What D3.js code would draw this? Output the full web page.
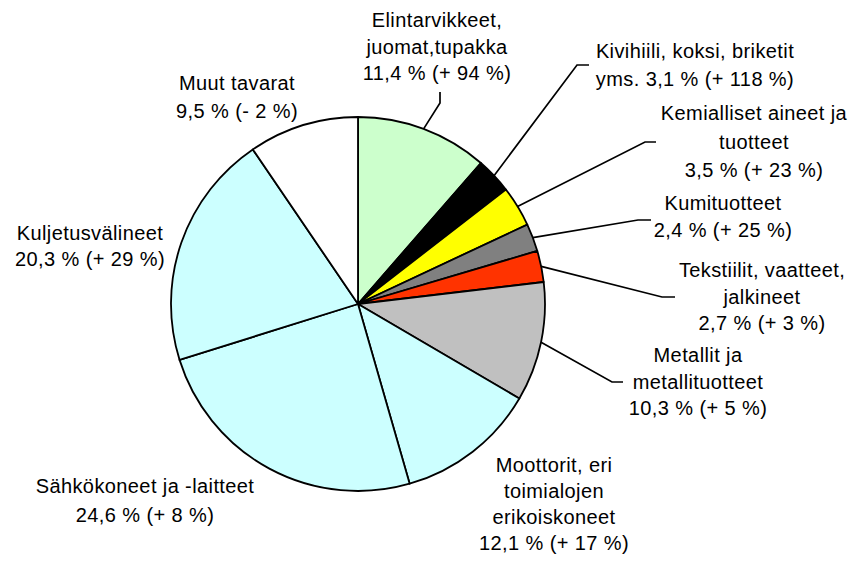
<!DOCTYPE html>
<html>
<head>
<meta charset="utf-8">
<script src="https://cdn.jsdelivr.net/npm/d3@7"></script>
<style>
  html, body { margin: 0; padding: 0; background: #fff; }
  svg text { font-family: "Liberation Sans", Arial, sans-serif; font-size: 20px; letter-spacing: 0.4px; fill: #000; }
</style>
</head>
<body>
<svg id="chart" width="856" height="561"></svg>
<script>
"use strict";

// category names, line breaks as in the original labels
const categories = [
    "Elintarvikkeet,\njuomat,tupakka",
    "Kivihiili, koksi, briketit\nyms.",
    "Kemialliset aineet ja\ntuotteet",
    "Kumituotteet",
    "Tekstiilit, vaatteet,\njalkineet",
    "Metallit ja\nmetallituotteet",
    "Moottorit, eri\ntoimialojen\nerikoiskoneet",
    "Sähkökoneet ja -laitteet",
    "Kuljetusvälineet",
    "Muut tavarat"
];
// share of total, %
const shares = [11.4, 3.1, 3.5, 2.4, 2.7, 10.3, 12.1, 24.6, 20.3, 9.5];
// change from previous year, %
const changes = [94, 118, 23, 25, 3, 5, 17, 8, 29, -2];

const colors = ["#ccffcc", "#000000", "#ffff00", "#808080", "#ff3300",
                "#c0c0c0", "#ccffff", "#ccffff", "#ccffff", "#ffffff"];

// label placement: centre x, first baseline, line step, optional leader elbow/end
const labelLayout = [
    { x: 437, y: 27,  lh: 26.5, elbow: [440, 103], end: [440, 92] },
    { x: 695, y: 58,  lh: 28,   elbow: [577, 65],  end: [589, 65], inline: true },
    { x: 754, y: 120, lh: 28.5, elbow: [645, 142], end: [656, 142] },
    { x: 723, y: 210, lh: 27,   elbow: [638, 220], end: [651, 220] },
    { x: 762, y: 277, lh: 26.5, elbow: [662, 297], end: [675, 297] },
    { x: 698, y: 362, lh: 26.5, elbow: [612, 382], end: [623, 382] },
    { x: 554, y: 472, lh: 26 },
    { x: 145, y: 493, lh: 29 },
    { x: 90,  y: 240, lh: 25.5 },
    { x: 237, y: 90,  lh: 28 }
];

const fmtNum = v => String(v).replace(".", ",");
function shareText(i) {
    let c = changes[i];
    return fmtNum(shares[i].toFixed(1)) + " % (" + (c < 0 ? "- " : "+ ") + Math.abs(c) + " %)";
}

const svg = d3.select("#chart"),
    cx = 358, cy = 304, radius = 187;

const pie = d3.pie().sort(null).value(d => d);
const arcs = pie(shares);

const arc = d3.arc().innerRadius(0).outerRadius(radius);
const rim = d3.arc().innerRadius(radius).outerRadius(radius);

const g = svg.append("g").attr("transform", "translate(" + cx + "," + cy + ")");

g.selectAll("path.slice")
    .data(arcs)
    .enter().append("path")
        .attr("class", "slice")
        .attr("d", arc)
        .attr("fill", (d, i) => colors[i])
        .attr("stroke", "#000")
        .attr("stroke-width", 1.8)
        .attr("stroke-linejoin", "round");

// leader lines
arcs.forEach((d, i) => {
    let L = labelLayout[i];
    if (!L.elbow) return;
    let p = rim.centroid(d);
    let pts = [[p[0] + cx, p[1] + cy], L.elbow, L.end];
    svg.append("path")
        .attr("d", d3.line()(pts))
        .attr("fill", "none")
        .attr("stroke", "#000")
        .attr("stroke-width", 1.7);
});

// labels
categories.forEach((name, i) => {
    let L = labelLayout[i];
    let lines = name.split("\n");
    if (L.inline) lines[lines.length - 1] += " " + shareText(i);
    else lines.push(shareText(i));
    let t = svg.append("text").attr("text-anchor", "middle");
    lines.forEach((s, k) => {
        t.append("tspan").attr("x", L.x).attr("y", L.y + k * L.lh).text(s);
    });
});
</script>
</body>
</html>
